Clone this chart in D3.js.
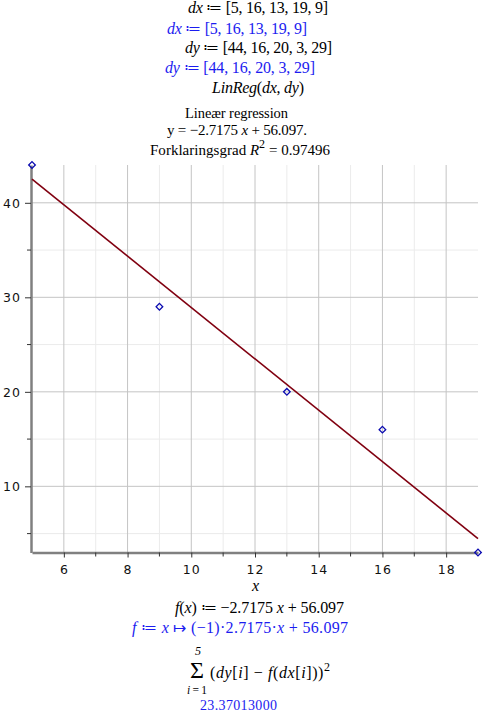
<!DOCTYPE html>
<html><head><meta charset="utf-8">
<script src="https://cdn.jsdelivr.net/npm/d3@7"></script>
<style>
body{margin:0;background:#fff;}
svg{display:block;}
text{font-family:"Liberation Serif","Times New Roman",serif;}
</style></head>
<body>
<script>
const dx = [5, 16, 13, 19, 9];
const dy = [44, 16, 20, 3, 29];
const slope = -2.7175;
const intercept = 56.097;
const xTicks = [6, 8, 10, 12, 14, 16, 18];
const xMinor = [7, 9, 11, 13, 15, 17];
const yTicks = [10, 20, 30, 40];
const yMinor = [5, 15, 25, 35];
const xDomain = [5, 19];
const yDomain = [3, 44];

const W = 497, H = 714;
const svg = d3.select("body").append("svg").attr("width", W).attr("height", H);

const x = d3.scaleLinear().domain(xDomain).range([32, 478]);
const y = d3.scaleLinear().domain(yDomain).range([552.5, 165]);

const BLUE = "#1c1cf0";
const g = svg.append("g");

// grid
g.selectAll(".gxm").data(xMinor).join("line")
  .attr("x1", d => x(d)).attr("x2", d => x(d)).attr("y1", y(yDomain[1])).attr("y2", y(yDomain[0]))
  .attr("stroke", "#ebebeb").attr("stroke-width", 1);
g.selectAll(".gym").data(yMinor).join("line")
  .attr("y1", d => y(d)).attr("y2", d => y(d)).attr("x1", x(xDomain[0])).attr("x2", x(xDomain[1]))
  .attr("stroke", "#ebebeb").attr("stroke-width", 1);
g.selectAll(".gx").data(xTicks).join("line")
  .attr("x1", d => x(d)).attr("x2", d => x(d)).attr("y1", y(yDomain[1])).attr("y2", y(yDomain[0]))
  .attr("stroke", "#c4c4c4").attr("stroke-width", 1);
g.selectAll(".gy").data(yTicks).join("line")
  .attr("y1", d => y(d)).attr("y2", d => y(d)).attr("x1", x(xDomain[0])).attr("x2", x(xDomain[1]))
  .attr("stroke", "#c4c4c4").attr("stroke-width", 1);

// axes
const xAxis = d3.axisBottom(x).tickValues(xTicks).tickSize(5).tickSizeOuter(0).tickFormat(d3.format("d"));
const yAxis = d3.axisLeft(y).tickValues(yTicks).tickSize(6).tickSizeOuter(0).tickFormat(d3.format("d"));
const gx = svg.append("g").attr("transform", `translate(0,${y(yDomain[0])})`).call(xAxis);
const gy = svg.append("g").attr("transform", `translate(${x(xDomain[0]) - 1},0)`).call(yAxis);
[gx, gy].forEach(a => {
  a.select(".domain").attr("stroke", "#808080").attr("stroke-width", 2.5);
  a.selectAll(".tick line").attr("stroke", "#333").attr("stroke-width", 1);
  a.selectAll(".tick text").attr("fill", "#111")
    .style("font-family", "'DejaVu Sans', sans-serif").style("font-size", "12.5px").style("letter-spacing", "1px");
});
gx.selectAll(".tick text").attr("dy", "1.1em");
gy.selectAll(".tick text").attr("dx", "-1px").attr("dy", "0.35em");
// minor ticks
svg.append("g").selectAll("line").data(xMinor).join("line")
  .attr("x1", d => x(d)).attr("x2", d => x(d)).attr("y1", y(yDomain[0])).attr("y2", y(yDomain[0]) + 4)
  .attr("stroke", "#333");
svg.append("g").selectAll("line").data(yMinor).join("line")
  .attr("y1", d => y(d)).attr("y2", d => y(d)).attr("x1", x(xDomain[0]) - 1).attr("x2", x(xDomain[0]) - 5)
  .attr("stroke", "#333");

// regression line
svg.append("line")
  .attr("x1", x(xDomain[0])).attr("y1", y(slope * xDomain[0] + intercept))
  .attr("x2", x(xDomain[1])).attr("y2", y(slope * xDomain[1] + intercept))
  .attr("stroke", "#800010").attr("stroke-width", 1.6);

// points
const sym = d3.symbol().type(d3.symbolSquare).size(22);
svg.selectAll(".pt").data(dx.map((v, i) => [v, dy[i]])).join("path")
  .attr("d", sym)
  .attr("transform", d => `translate(${x(d[0])},${y(d[1])}) rotate(45)`)
  .attr("fill", "none").attr("stroke", "#0a0ab0").attr("stroke-width", 1.3);

// text helper
function line(px, py, parts, color, size, width) {
  const t = svg.append("text").attr("x", px).attr("y", py).attr("fill", color || "#000")
    .style("font-size", (size || 16) + "px");
  if (width) t.attr("textLength", width).attr("lengthAdjust", "spacing");
  parts.forEach(p => {
    const s = t.append("tspan").text(p[0]);
    if (p[1] === "i") s.style("font-style", "italic");
    if (p[1] === "sup") s.attr("dy", "-7").style("font-size", "12px");
    if (p[1] === "dn") s.attr("dy", "7");
  });
  return t;
}
const ASSIGN = " \u2254 ";
line(188, 13, [["dx", "i"], [ASSIGN + "[5, 16, 13, 19, 9]"]], "#000", 16, 140);
line(167, 34, [["dx", "i"], [ASSIGN + "[5, 16, 13, 19, 9]"]], BLUE, 16, 140);
line(185, 53, [["dy", "i"], [ASSIGN + "[44, 16, 20, 3, 29]"]], "#000", 16, 147);
line(165, 73, [["dy", "i"], [ASSIGN + "[44, 16, 20, 3, 29]"]], BLUE, 16, 150);
line(212, 93, [["LinReg", "i"], ["("], ["dx", "i"], [", "], ["dy", "i"], [")"]], "#000", 16, 92);
line(185, 118, [["Lineær regression"]], "#000", 14.5, 103);
line(167, 135, [["y = \u22122.7175 "], ["x", "i"], [" + 56.097."]], "#000", 15, 140);
line(150, 155, [["Forklaringsgrad "], ["R", "i"], ["2", "sup"], [" = 0.97496", "dn"]], "#000", 15, 180);

// x label
line(252, 591, [["x", "i"]], "#000", 16);

line(175, 613, [["f", "i"], ["("], ["x", "i"], [")" + ASSIGN + "\u22122.7175 "], ["x", "i"], [" + 56.097"]], "#000", 16, 169);
line(132, 633, [["f", "i"], [ASSIGN], ["x", "i"], [" \u21a6 (\u22121)\u00b72.7175\u00b7"], ["x", "i"], [" + 56.097"]], BLUE, 16, 216);

// sum
line(195, 655, [["5", "i"]], "#000", 12);
line(190, 678, [["\u03a3"]], "#000", 24);
line(187, 694, [["i", "i"], [" = 1"]], "#000", 11.5, 20);
line(210, 678, [["("], ["dy", "i"], ["["], ["i", "i"], ["] \u2212 "], ["f", "i"], ["("], ["dx", "i"], ["["], ["i", "i"], ["]))"], ["2", "sup"]], "#000", 16, 120);
line(200, 710, [["23.37013000"]], BLUE, 14, 77);
</script>
</body></html>
